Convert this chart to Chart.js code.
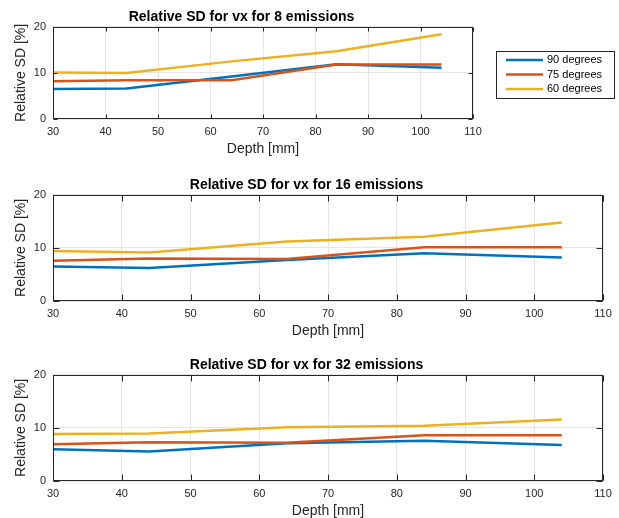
<!DOCTYPE html>
<html>
<head>
<meta charset="utf-8">
<script src="https://cdn.jsdelivr.net/npm/chart.js@4.4.0/dist/chart.umd.min.js"></script>
<style>
  html, body { margin: 0; padding: 0; background: #fff; }
  body { width: 619px; height: 518px; overflow: hidden; position: relative; }
  canvas { position: absolute; left: 0; }
</style>
</head>
<body>
<canvas id="c8" width="619" height="160" style="top:0px"></canvas>
<canvas id="c16" width="619" height="174" style="top:168px"></canvas>
<canvas id="c32" width="619" height="174" style="top:348px"></canvas>
<script>
// data
const depths = [30, 44, 64, 84, 104];
const seriesNames = ['90 degrees', '75 degrees', '60 degrees'];
const xTickValues = [30, 40, 50, 60, 70, 80, 90, 100, 110];
const yTickValues = [0, 10, 20];

const sd8_90 = [6.5, 6.6, 9.2, 11.9, 11.1];
const sd8_75 = [8.2, 8.4, 8.4, 11.8, 11.8];
const sd8_60 = [10.1, 10.0, 12.5, 14.7, 18.4];

const sd16_90 = [6.5, 6.2, 7.7, 9.0, 8.2];
const sd16_75 = [7.6, 8.0, 7.9, 10.1, 10.1];
const sd16_60 = [9.4, 9.15, 11.2, 12.1, 14.8];

const sd32_90 = [6.0, 5.55, 7.1, 7.6, 6.8];
const sd32_75 = [6.9, 7.3, 7.2, 8.6, 8.6];
const sd32_60 = [8.85, 8.95, 10.1, 10.4, 11.6];

const colors = ['#0072BD', '#D95319', '#EDB120'];

Chart.defaults.font.family = '"Liberation Sans", Arial, Helvetica, sans-serif';
Chart.defaults.color = '#262626';

// matlab style box with inward ticks
const boxPlugin = {
    id: 'matlabBox',
    afterDatasetsDraw(chart) {
        const { ctx, chartArea: a, scales: { x, y } } = chart;
        const L = Math.round(a.left) + 0.5, R = Math.round(a.right) - 0.5;
        const T = Math.round(a.top) + 0.5, B = Math.round(a.bottom) - 0.5;
        const len = Math.round(Math.max(a.width, a.height) * 0.01);
        ctx.save();
        ctx.strokeStyle = '#262626';
        ctx.lineWidth = 1;
        ctx.strokeRect(L, T, R - L, B - T);
        ctx.beginPath();
        x.ticks.forEach(t => {
            const px = Math.round(x.getPixelForValue(t.value)) + 0.5;
            ctx.moveTo(px, B); ctx.lineTo(px, B - len);
            ctx.moveTo(px, T); ctx.lineTo(px, T + len);
        });
        y.ticks.forEach(t => {
            const py = Math.round(y.getPixelForValue(t.value)) + 0.5;
            ctx.moveTo(L, py); ctx.lineTo(L + len, py);
            ctx.moveTo(R, py); ctx.lineTo(R - len, py);
        });
        ctx.stroke();
        ctx.restore();
    }
};

// legend box outside the first axes
const legendBox = {
    id: 'legendBox',
    afterDraw(chart) {
        const ctx = chart.ctx;
        ctx.save();
        ctx.strokeStyle = '#262626';
        ctx.lineWidth = 1;
        ctx.strokeRect(496.5, 51.5, 118, 47);
        ctx.font = '11px "Liberation Sans", Arial, sans-serif';
        ctx.textBaseline = 'middle';
        ctx.fillStyle = '#000';
        const rows = [60, 74.5, 89];
        chart.data.datasets.forEach((ds, i) => {
            ctx.strokeStyle = ds.borderColor;
            ctx.lineWidth = 2.5;
            ctx.beginPath();
            ctx.moveTo(506, rows[i]);
            ctx.lineTo(543, rows[i]);
            ctx.stroke();
            ctx.fillText(ds.label, 547, rows[i]);
        });
        ctx.restore();
    }
};

function makeDatasets(values) {
    return values.map((vals, i) => ({
        label: seriesNames[i],
        data: depths.map((d, j) => ({ x: d, y: vals[j] })),
        borderColor: colors[i],
        backgroundColor: colors[i],
        borderWidth: 2.5,
        pointRadius: 0,
        fill: false,
        tension: 0,
        order: 3 - i
    }));
}

function makeChart(id, title, values, padRight, extraPlugins) {
    const ctx = document.getElementById(id).getContext('2d');
    return new Chart(ctx, {
        type: 'line',
        data: { datasets: makeDatasets(values) },
        plugins: [boxPlugin].concat(extraPlugins || []),
        options: {
            responsive: false,
            animation: false,
            layout: { padding: { left: 10, right: padRight, top: 0, bottom: 0 } },
            plugins: {
                legend: { display: false },
                tooltip: { enabled: false },
                title: {
                    display: true,
                    text: title,
                    color: '#000',
                    font: { size: 14, weight: 'bold' },
                    padding: { top: 9, bottom: 1 }
                }
            },
            scales: {
                x: {
                    type: 'linear',
                    min: 30,
                    max: 110,
                    afterBuildTicks: s => { s.ticks = xTickValues.map(v => ({ value: v })); },
                    afterFit: s => { s.height = 41; },
                    ticks: { font: { size: 11 }, padding: 6, maxRotation: 0, autoSkip: false },
                    grid: { color: '#e6e6e6', drawTicks: false },
                    border: { display: false },
                    title: { display: true, text: 'Depth [mm]', font: { size: 14 }, padding: { top: 0, bottom: 2 } }
                },
                y: {
                    min: 0,
                    max: 20,
                    afterBuildTicks: s => { s.ticks = yTickValues.map(v => ({ value: v })); },
                    afterFit: s => { s.width = 43; },
                    ticks: { font: { size: 11 }, padding: 7 },
                    grid: { color: '#e6e6e6', drawTicks: false },
                    border: { display: false },
                    title: { display: true, text: 'Relative SD [%]', font: { size: 14 }, padding: { top: 3, bottom: 0 } }
                }
            }
        }
    });
}

makeChart('c8', 'Relative SD for vx for 8 emissions', [sd8_90, sd8_75, sd8_60], 146, [legendBox]);
makeChart('c16', 'Relative SD for vx for 16 emissions', [sd16_90, sd16_75, sd16_60], 16);
makeChart('c32', 'Relative SD for vx for 32 emissions', [sd32_90, sd32_75, sd32_60], 16);
</script>
</body>
</html>
